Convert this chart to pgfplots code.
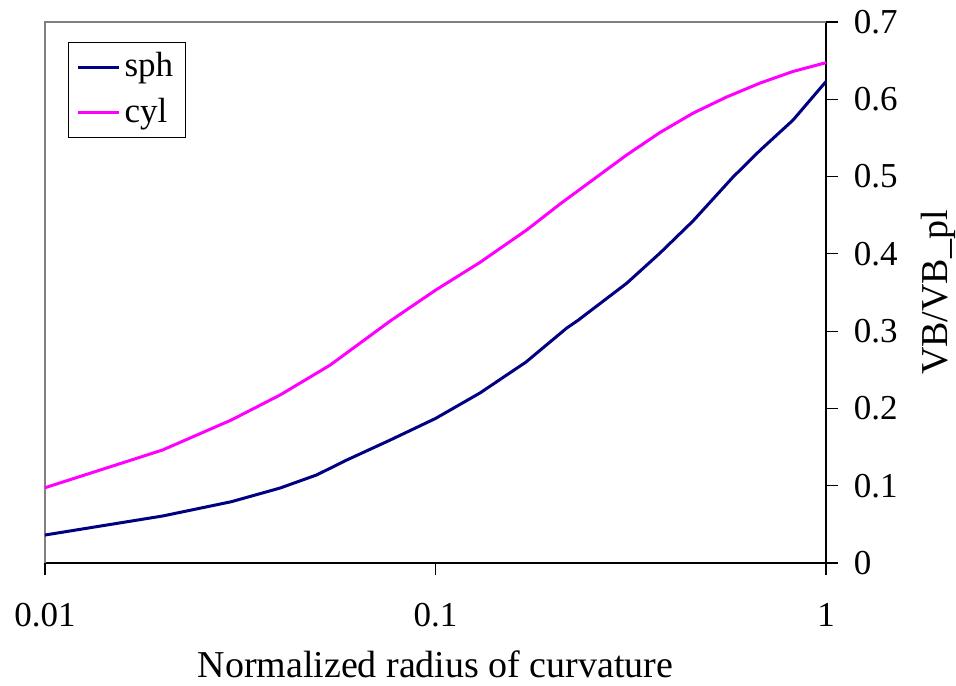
\documentclass[border=0pt]{standalone}
\usepackage{pgfplots}
\pgfplotsset{compat=1.18}
\usepackage{fontspec}
\setmainfont{Liberation Serif}
\definecolor{sphc}{RGB}{0,0,128}
\definecolor{cylc}{RGB}{255,0,255}
\begin{document}
\fontsize{17.5}{21}\selectfont
\begin{tikzpicture}
\useasboundingbox (0,0) rectangle (478pt,342.5pt);
\begin{axis}[
  at={(22.5pt,61pt)}, anchor=south west,
  scale only axis, width=390.5pt, height=270.5pt,
  xmode=log, xmin=0.01, xmax=1, ymin=0, ymax=0.7,
  axis x line=bottom, axis y line=right,
  axis line style={-, black, line width=0.6pt},
  xtick={0.01,0.1,1}, xticklabels={0.01,0.1,1},
  ytick={0,0.1,0.2,0.3,0.4,0.5,0.6,0.7},
  yticklabels={0,0.1,0.2,0.3,0.4,0.5,0.6,0.7},
  xminorticks=false, yminorticks=false,
  tick align=outside, major tick length=6pt,
  tick style={black, line width=0.6pt},
  /pgf/number format/assume math mode=true,
  ticklabel style={font=\fontsize{17.5}{21}\selectfont},
  xticklabel style={yshift=-8pt},
  yticklabel style={xshift=2pt},
  xlabel={Normalized radius of curvature},
  ylabel={VB/VB\_pl},
  label style={font=\fontsize{19}{23}\selectfont},
  legend style={at={(0.0295,0.963)}, anchor=north west, draw=black, line width=0.5pt,
    font=\fontsize{17.5}{21}\selectfont, row sep=4pt, inner xsep=4pt, inner ysep=3pt},
  legend cell align=left,
  legend image code/.code={\draw[#1, line width=1.5pt] (0pt,0pt) -- (20.5pt,0pt);},
  clip=false,
]
\draw[gray, line width=0.6pt] (rel axis cs:0,0) -- (rel axis cs:0,1) -- (rel axis cs:1,1);
\addplot[sphc, line width=1.5pt] coordinates {
(0.01,0.0362) (0.02,0.0608) (0.03,0.0793) (0.04,0.097) (0.0496,0.1139) (0.0593,0.1333)
(0.0765,0.159) (0.1,0.187) (0.130,0.22) (0.1705,0.26) (0.2168,0.304) (0.2317,0.314)
(0.3088,0.362) (0.3757,0.401) (0.4564,0.4425) (0.578,0.4994) (0.678,0.534) (0.823,0.573) (1.0,0.623)
};
\addlegendentry{sph}
\addplot[cylc, line width=1.5pt] coordinates {
(0.01,0.0974) (0.02,0.1462) (0.03,0.185) (0.04,0.2174) (0.0537,0.256) (0.0765,0.313)
(0.1,0.353) (0.130,0.389) (0.1713,0.431) (0.2084,0.4645) (0.3088,0.528) (0.3757,0.557)
(0.4564,0.582) (0.5567,0.603) (0.678,0.621) (0.823,0.636) (1.0,0.6474)
};
\addlegendentry{cyl}
\end{axis}
\end{tikzpicture}
\end{document}
